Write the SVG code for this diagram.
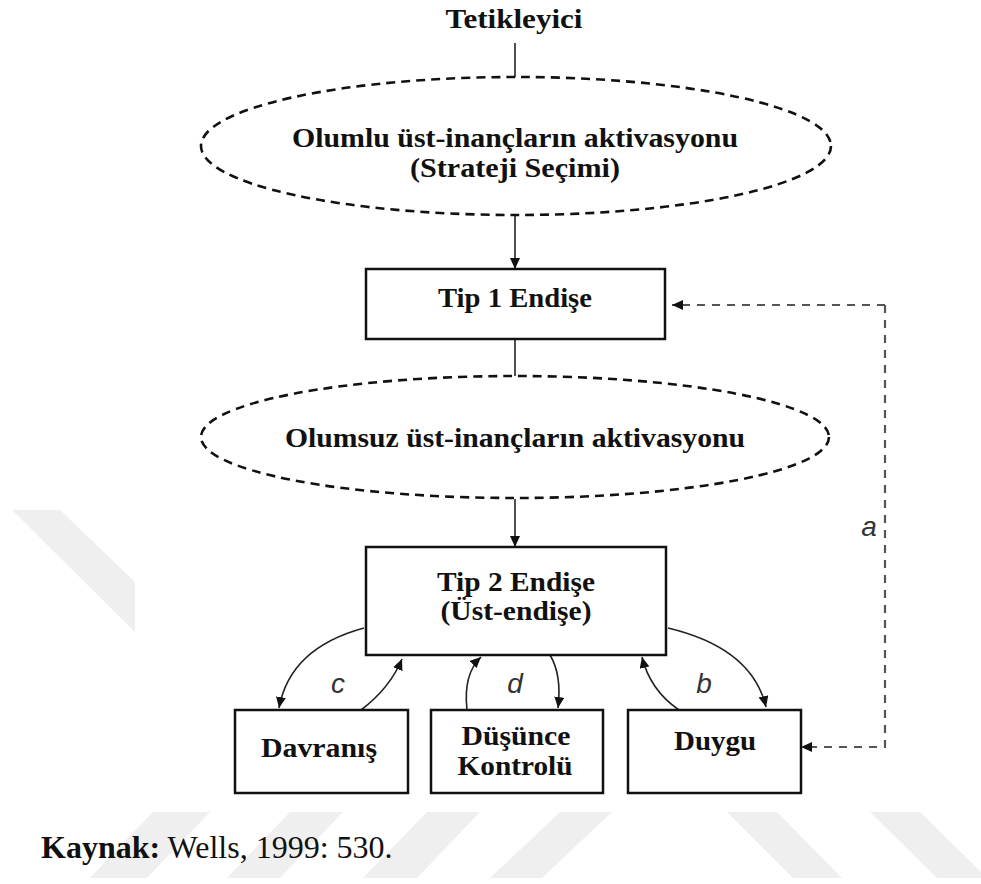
<svg xmlns="http://www.w3.org/2000/svg" width="981" height="884" viewBox="0 0 981 884">
<defs>
<style>
.t{font-family:"Liberation Serif","Times New Roman",serif;font-weight:bold;font-size:27px;fill:#111;text-anchor:middle}
.box{fill:#fff;stroke:#111;stroke-width:2.5}
.ell{fill:none;stroke:#111;stroke-width:2.6;stroke-dasharray:9 6}
.ln{fill:none;stroke:#222;stroke-width:1.6}
.da{fill:none;stroke:#555;stroke-width:2.2;stroke-dasharray:8 7}
.lab{font-family:"Liberation Sans",Arial,sans-serif;font-style:italic;font-size:28px;fill:#333;text-anchor:middle}
.wm{fill:#efefef}
</style>
<marker id="ah" markerUnits="userSpaceOnUse" markerWidth="12" markerHeight="10" refX="11" refY="5" orient="auto">
<path d="M0,0 L11,5 L0,10 z" fill="#111"/>
</marker>
</defs>
<rect width="981" height="884" fill="#fff"/>
<g id="watermark">
<polygon class="wm" points="12,510 60,510 135,582 135,632"/>
<polygon class="wm" points="153,812 210,812 147,878 90,878"/>
<polygon class="wm" points="290,812 343,812 280,878 227,878"/>
<polygon class="wm" points="427,812 480,812 417,878 363,878"/>
<polygon class="wm" points="560,812 612,812 542,878 490,878"/>
<polygon class="wm" points="727,812 777,812 842,878 793,878"/>
<polygon class="wm" points="870,812 920,812 981,872 981,878 937,878"/>
</g>
<g id="connectors">
<line class="ln" x1="515" y1="43" x2="515" y2="77"/>
<line class="ln" x1="515" y1="216" x2="515" y2="269" marker-end="url(#ah)"/>
<line class="ln" x1="515" y1="339" x2="515" y2="376"/>
<line class="ln" x1="515" y1="499" x2="515" y2="547" marker-end="url(#ah)"/>
<path class="da" d="M885,305 L672,305" marker-end="url(#ah)"/>
<path class="da" d="M885,305 L885,747 L801,747" marker-end="url(#ah)"/>
<path class="ln" d="M364,628 Q290,648 279,708" marker-end="url(#ah)"/>
<path class="ln" d="M361,710 Q390,688 402,659" marker-end="url(#ah)"/>
<path class="ln" d="M467,710 Q463,674 481,657" marker-end="url(#ah)"/>
<path class="ln" d="M550,655 Q562,675 558,708" marker-end="url(#ah)"/>
<path class="ln" d="M679,710 Q650,690 642,657" marker-end="url(#ah)"/>
<path class="ln" d="M668,628 Q752,648 766,707" marker-end="url(#ah)"/>
<text class="lab" x="869" y="536">a</text>
<text class="lab" x="338" y="693">c</text>
<text class="lab" x="515" y="693">d</text>
<text class="lab" x="704" y="693">b</text>
</g>
<g id="tetikleyici">
<text class="t" x="514" y="28" textLength="137" lengthAdjust="spacingAndGlyphs">Tetikleyici</text>
</g>
<g id="olumlu">
<ellipse class="ell" cx="516" cy="146" rx="315" ry="69"/>
<text class="t" x="515" y="147" textLength="446" lengthAdjust="spacingAndGlyphs">Olumlu üst-inançların aktivasyonu</text>
<text class="t" x="515" y="177" textLength="210" lengthAdjust="spacingAndGlyphs">(Strateji Seçimi)</text>
</g>
<g id="tip1">
<rect class="box" x="366" y="269" width="299" height="70"/>
<text class="t" x="515" y="307" textLength="154" lengthAdjust="spacingAndGlyphs">Tip 1 Endişe</text>
</g>
<g id="olumsuz">
<ellipse class="ell" cx="515" cy="437" rx="314" ry="61"/>
<text class="t" x="515" y="447" textLength="460" lengthAdjust="spacingAndGlyphs">Olumsuz üst-inançların aktivasyonu</text>
</g>
<g id="tip2">
<rect class="box" x="366" y="547" width="300" height="108"/>
<text class="t" x="516" y="591" textLength="158" lengthAdjust="spacingAndGlyphs">Tip 2 Endişe</text>
<text class="t" x="516" y="620" textLength="151" lengthAdjust="spacingAndGlyphs">(Üst-endişe)</text>
</g>
<g id="davranis">
<rect class="box" x="235" y="710" width="173" height="83"/>
<text class="t" x="319" y="757" textLength="116" lengthAdjust="spacingAndGlyphs">Davranış</text>
</g>
<g id="dusunce">
<rect class="box" x="431" y="710" width="172" height="83"/>
<text class="t" x="516" y="745" textLength="109" lengthAdjust="spacingAndGlyphs">Düşünce</text>
<text class="t" x="515" y="775" textLength="115" lengthAdjust="spacingAndGlyphs">Kontrolü</text>
</g>
<g id="duygu">
<rect class="box" x="628" y="710" width="173" height="83"/>
<text class="t" x="715" y="750" textLength="82" lengthAdjust="spacingAndGlyphs">Duygu</text>
</g>
<g id="source">
<text x="41" y="858" font-family="Liberation Serif,'Times New Roman',serif" font-size="32" fill="#111"><tspan font-weight="bold">Kaynak:</tspan> Wells, 1999: 530.</text>
</g>
</svg>
